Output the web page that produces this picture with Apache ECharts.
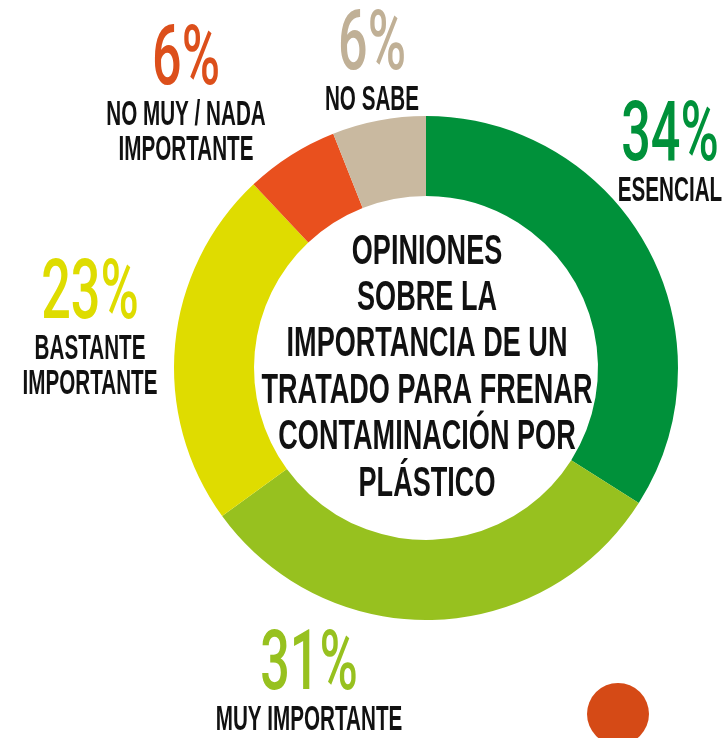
<!DOCTYPE html>
<html>
<head>
<meta charset="utf-8">
<script src="https://cdn.jsdelivr.net/npm/echarts@6/dist/echarts.min.js"></script>
<style>
html,body{margin:0;padding:0;background:#fff;}
#chart{width:724px;height:738px;}
</style>
</head>
<body>
<div id="chart"></div>
<script>
// ---- data ----
var categories = ['ESENCIAL', 'MUY IMPORTANTE', 'BASTANTE\nIMPORTANTE', 'NO MUY / NADA\nIMPORTANTE', 'NO SABE'];
var values = [34, 31, 23, 6, 6];
var centerTitle = 'OPINIONES\nSOBRE LA\nIMPORTANCIA DE UN\nTRATADO PARA FRENAR\nCONTAMINACIÓN POR\nPLÁSTICO';

// ---- styles / layout ----
var colors = ['#00913a', '#97c11f', '#dfdc00', '#e9501e', '#c9b9a0'];
var textColors = ['#00913a', '#97c11f', '#dedc00', '#dc4f1b', '#c0b096'];
var labelAnchors = [[670, 133], [309, 662], [90, 291], [186, 57], [372, 42]];
var FONT = '"Liberation Sans", Arial, sans-serif';
var PCT_FONT = 'Roboto, "Liberation Sans", sans-serif';

var chart = echarts.init(document.getElementById('chart'), null, {renderer: 'canvas'});

var graphics = [];
categories.forEach(function (name, i) {
  var a = labelAnchors[i];
  var lines = name.split('\n').length;
  graphics.push({
    type: 'text', x: a[0], y: a[1] + 6, scaleX: 0.62, z: 100, silent: true,
    style: {
      text: values[i] + '%', fill: textColors[i],
      fontFamily: PCT_FONT, fontSize: 84, fontWeight: 500,
      align: 'center', verticalAlign: 'middle',
      textAlign: 'center', textVerticalAlign: 'middle'
    }
  });
  graphics.push({
    type: 'text', x: a[0], y: a[1] + 58.5 + (lines - 1) * 35 / 2, scaleX: 0.59, z: 100, silent: true,
    style: {
      text: name, fill: '#111',
      fontFamily: FONT, fontSize: 35, fontWeight: 'bold', lineHeight: 35,
      align: 'center', verticalAlign: 'middle',
      textAlign: 'center', textVerticalAlign: 'middle'
    }
  });
});
graphics.push({
  type: 'text', x: 427, y: 368, scaleX: 0.645, z: 100, silent: true,
  style: {
    text: centerTitle, fill: '#111',
    fontFamily: FONT, fontSize: 42, fontWeight: 'bold', lineHeight: 46.4,
    align: 'center', verticalAlign: 'middle',
    textAlign: 'center', textVerticalAlign: 'middle'
  }
});
graphics.push({
  type: 'circle', shape: {cx: 618, cy: 714, r: 31}, z: 100, silent: true,
  style: {fill: '#d54a16'}
});

chart.setOption({
  backgroundColor: '#ffffff',
  animation: false,
  color: colors,
  series: [{
    type: 'pie',
    center: [426, 368],
    radius: [172, 252],
    startAngle: 90,
    clockwise: true,
    avoidLabelOverlap: false,
    label: {show: false},
    labelLine: {show: false},
    emphasis: {disabled: true},
    itemStyle: {borderWidth: 0},
    data: categories.map(function (c, i) { return {name: c, value: values[i]}; })
  }],
  graphic: graphics
});
</script>
</body>
</html>
